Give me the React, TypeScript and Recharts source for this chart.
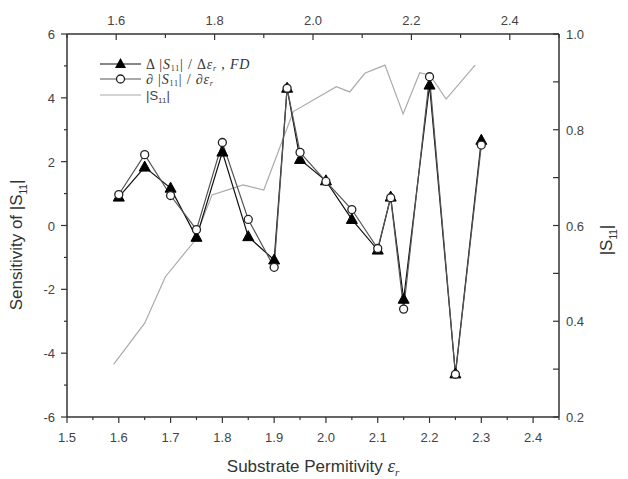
import { ComposedChart, Line, XAxis, YAxis } from 'recharts';

// FD sensitivity (triangles)
const fdX = [1.6, 1.65, 1.7, 1.75, 1.8, 1.85, 1.9, 1.925, 1.95, 2.0, 2.05, 2.1, 2.125, 2.15, 2.2, 2.25, 2.3];
const fdY = [0.89, 1.83, 1.17, -0.37, 2.3, -0.35, -1.08, 4.3, 2.07, 1.4, 0.19, -0.77, 0.89, -2.31, 4.4, -4.65, 2.67];

// adjoint sensitivity (circles)
const adjX = [1.6, 1.65, 1.7, 1.75, 1.8, 1.85, 1.9, 1.925, 1.95, 2.0, 2.05, 2.1, 2.125, 2.15, 2.2, 2.25, 2.3];
const adjY = [0.97, 2.22, 0.94, -0.13, 2.6, 0.19, -1.31, 4.3, 2.29, 1.38, 0.5, -0.72, 0.87, -2.62, 4.66, -4.66, 2.52];

// |S11| (gray, right axis)
const s11X = [1.59, 1.65, 1.69, 1.745, 1.78, 1.84, 1.88, 1.937, 2.02, 2.046, 2.075, 2.114, 2.149, 2.181, 2.201, 2.232, 2.288];
const s11Y = [0.31, 0.396, 0.493, 0.566, 0.664, 0.685, 0.674, 0.838, 0.89, 0.879, 0.918, 0.935, 0.833, 0.919, 0.914, 0.864, 0.935];

const bottomTicks = [1.5, 1.55, 1.6, 1.65, 1.7, 1.75, 1.8, 1.85, 1.9, 1.95, 2.0, 2.05, 2.1, 2.15, 2.2, 2.25, 2.3, 2.35, 2.4, 2.45];
const topTicks = [1.5, 1.6, 1.7, 1.8, 1.9, 2.0, 2.1, 2.2, 2.3, 2.4, 2.5];
const leftTicks = [-6, -5, -4, -3, -2, -1, 0, 1, 2, 3, 4, 5, 6];
const rightTicks = [0.2, 0.3, 0.4, 0.5, 0.6, 0.7, 0.8, 0.9, 1.0];

const fdData = fdX.map((x, i) => ({ x, y: fdY[i] }));
const adjData = adjX.map((x, i) => ({ x, y: adjY[i] }));
const s11Data = s11X.map((x, i) => ({ x, y: s11Y[i] }));

const AX = '#333';
const TXT = '#444';
const FONT = '"Liberation Sans", Arial, sans-serif';
const SERIF = '"Liberation Serif", "DejaVu Serif", serif';

const near = (v: number, step: number) => Math.abs(v / step - Math.round(v / step)) < 1e-6;

const BottomTick = (p: any) => {
  const v = p.payload.value;
  const major = near(v, 0.1);
  return (
    <g>
      <line x1={p.x} x2={p.x} y1={p.y} y2={p.y + (major ? 6 : 3)} stroke={AX} strokeWidth={1.2} />
      {major && (
        <text x={p.x} y={p.y + 25} textAnchor="middle" fontSize={13} fill={TXT} fontFamily={FONT}>
          {v.toFixed(1)}
        </text>
      )}
    </g>
  );
};

const TopTick = (p: any) => {
  const v = p.payload.value;
  const major = near(v, 0.2) && v > 1.55 && v < 2.45;
  return (
    <g>
      <line x1={p.x} x2={p.x} y1={p.y} y2={p.y + (major ? 6 : 4)} stroke={AX} strokeWidth={1.2} />
      {major && (
        <text x={p.x} y={p.y - 9} textAnchor="middle" fontSize={13} fill={TXT} fontFamily={FONT}>
          {v.toFixed(1)}
        </text>
      )}
    </g>
  );
};

const LeftTick = (p: any) => {
  const v = p.payload.value;
  const major = near(v, 2);
  return (
    <g>
      <line x1={p.x - (major ? 6 : 3)} x2={p.x} y1={p.y} y2={p.y} stroke={AX} strokeWidth={1.2} />
      {major && (
        <text x={p.x - 12} y={p.y + 5} textAnchor="end" fontSize={13} fill={TXT} fontFamily={FONT}>
          {v}
        </text>
      )}
    </g>
  );
};

const RightTick = (p: any) => {
  const v = p.payload.value;
  const major = near(v, 0.2);
  return (
    <g>
      <line x1={p.x - 6} x2={p.x} y1={p.y} y2={p.y} stroke={AX} strokeWidth={1.2} />
      {major && (
        <text x={p.x + 7} y={p.y + 5} textAnchor="start" fontSize={13} fill={TXT} fontFamily={FONT}>
          {v.toFixed(1)}
        </text>
      )}
    </g>
  );
};

const Triangle = (p: any) => {
  if (p.cx == null || p.cy == null) return <g key={p.index} />;
  const { cx, cy } = p;
  return (
    <polygon
      key={p.index}
      points={`${cx},${cy - 6} ${cx - 5.5},${cy + 4} ${cx + 5.5},${cy + 4}`}
      fill="#000"
      stroke="#000"
    />
  );
};

const LeftTitle = () => (
  <text
    x={22}
    y={245}
    transform="rotate(-90 22 245)"
    textAnchor="middle"
    fontSize={17}
    fill="#333"
    fontFamily={FONT}
  >
    Sensitivity of |S
    <tspan fontSize={10} dy={5}>11</tspan>
    <tspan dy={-5}>|</tspan>
  </text>
);

const RightTitle = () => (
  <text
    x={612}
    y={240}
    transform="rotate(-90 612 240)"
    textAnchor="middle"
    fontSize={17}
    fill="#333"
    fontFamily={FONT}
  >
    |S
    <tspan fontSize={10} dy={5}>11</tspan>
    <tspan dy={-5}>|</tspan>
  </text>
);

const BottomTitle = () => (
  <text x={313} y={472} textAnchor="middle" fontSize={17} fill="#333" fontFamily={FONT}>
    Substrate Permitivity{' '}
    <tspan fontFamily={SERIF} fontStyle="italic" fontSize={19}>ε</tspan>
    <tspan fontFamily={SERIF} fontStyle="italic" fontSize={11} dy={4}>r</tspan>
  </text>
);

const LegendBox = () => (
  <g>
    <line x1={100} x2={141} y1={64} y2={64} stroke="#111" strokeWidth={1.2} />
    <polygon points="120.5,58 115,68 126,68" fill="#000" />
    <text x={146} y={68.5} fontFamily={SERIF} fontSize={14} letterSpacing={0.8} fill="#333">
      Δ |<tspan fontStyle="italic">S</tspan>
      <tspan fontSize={8} dy={2}>11</tspan>
      <tspan dy={-2}>| / Δ</tspan>
      <tspan fontStyle="italic">ε</tspan>
      <tspan fontSize={8} fontStyle="italic" dy={2}>r</tspan>
      <tspan dy={-2}> , </tspan>
      <tspan fontStyle="italic">FD</tspan>
    </text>
    <line x1={100} x2={141} y1={79} y2={79} stroke="#555" strokeWidth={1.2} />
    <circle cx={120.5} cy={79} r={4} fill="#fff" stroke="#222" strokeWidth={1.3} />
    <text x={146} y={84} fontFamily={SERIF} fontSize={14} letterSpacing={0.8} fill="#333">
      ∂ |<tspan fontStyle="italic">S</tspan>
      <tspan fontSize={8} dy={2}>11</tspan>
      <tspan dy={-2}>| / ∂</tspan>
      <tspan fontStyle="italic">ε</tspan>
      <tspan fontSize={8} fontStyle="italic" dy={2}>r</tspan>
    </text>
    <line x1={100} x2={141} y1={95} y2={95} stroke="#aaa" strokeWidth={1.2} />
    <text x={146} y={100} fontFamily={FONT} fontSize={13} fill="#444">
      |S<tspan fontSize={8} dy={3}>11</tspan>
      <tspan dy={-3}>|</tspan>
    </text>
  </g>
);

export default function App() {
  return (
    <div style={{ position: 'absolute', left: 0, top: 0, width: 628, height: 479, background: '#fff' }}>
      <ComposedChart width={628} height={479} margin={{ top: 0, right: 0, bottom: 0, left: 0 }}>
        <XAxis
          xAxisId="bottom"
          type="number"
          dataKey="x"
          orientation="bottom"
          domain={[1.5, 2.45]}
          ticks={bottomTicks}
          interval={0}
          height={62}
          tickSize={0}
          tickMargin={0}
          tickLine={false}
          tick={<BottomTick />}
          axisLine={{ stroke: AX, strokeWidth: 1.5 }}
          allowDataOverflow
        />
        <XAxis
          xAxisId="top"
          type="number"
          dataKey="x"
          orientation="top"
          domain={[1.5, 2.5]}
          ticks={topTicks}
          interval={0}
          height={34}
          tickSize={0}
          tickMargin={0}
          tickLine={false}
          tick={<TopTick />}
          axisLine={{ stroke: AX, strokeWidth: 1.5 }}
          allowDataOverflow
        />
        <YAxis
          yAxisId="left"
          type="number"
          orientation="left"
          domain={[-6, 6]}
          ticks={leftTicks}
          interval={0}
          width={67}
          tickSize={0}
          tickMargin={0}
          tickLine={false}
          tick={<LeftTick />}
          axisLine={{ stroke: AX, strokeWidth: 1.5 }}
          allowDataOverflow
        />
        <YAxis
          yAxisId="right"
          type="number"
          orientation="right"
          domain={[0.2, 1.0]}
          ticks={rightTicks}
          interval={0}
          width={69}
          tickSize={0}
          tickMargin={0}
          tickLine={false}
          tick={<RightTick />}
          axisLine={{ stroke: AX, strokeWidth: 1.5 }}
          allowDataOverflow
        />
        <Line
          data={s11Data}
          xAxisId="bottom"
          yAxisId="right"
          dataKey="y"
          type="linear"
          stroke="#aaa"
          strokeWidth={1.2}
          dot={false}
          isAnimationActive={false}
        />
        <Line
          data={fdData}
          xAxisId="bottom"
          yAxisId="left"
          dataKey="y"
          type="linear"
          stroke="#111"
          strokeWidth={1.2}
          dot={<Triangle />}
          isAnimationActive={false}
        />
        <Line
          data={adjData}
          xAxisId="bottom"
          yAxisId="left"
          dataKey="y"
          type="linear"
          stroke="#555"
          strokeWidth={1.2}
          dot={{ r: 4, fill: '#fff', stroke: '#222', strokeWidth: 1.3 }}
          isAnimationActive={false}
        />
        <LeftTitle />
        <RightTitle />
        <BottomTitle />
        <LegendBox />
      </ComposedChart>
    </div>
  );
}
